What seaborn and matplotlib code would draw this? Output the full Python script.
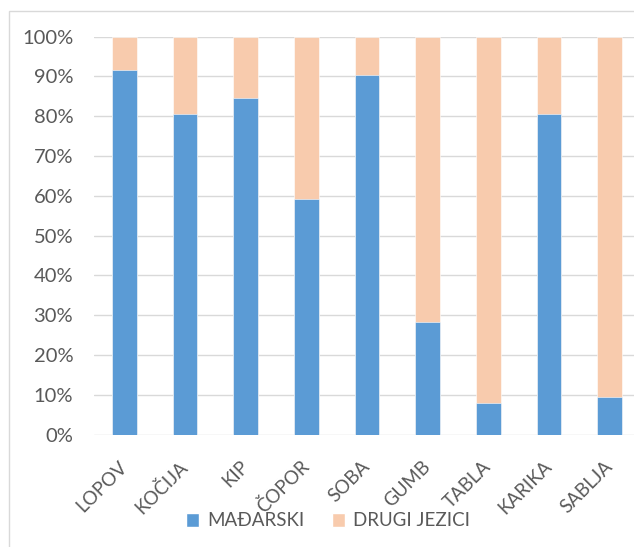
import matplotlib
matplotlib.use("Agg")
import matplotlib.pyplot as plt
import seaborn as sns
import pandas as pd
from matplotlib.patches import Rectangle, Patch
from matplotlib.ticker import PercentFormatter

categories = ["LOPOV", "KOČIJA", "KIP", "ČOPOR", "SOBA", "GUMB", "TABLA", "KARIKA", "SABLJA"]
madjarski = [91.6, 80.6, 84.5, 59.2, 90.3, 28.2, 7.9, 80.6, 9.4]
drugi_jezici = [8.4, 19.4, 15.5, 40.8, 9.7, 71.8, 92.1, 19.4, 90.6]
series_names = ["MAĐARSKI", "DRUGI JEZICI"]
y_ticks = [0, 10, 20, 30, 40, 50, 60, 70, 80, 90, 100]

BLUE = "#5B9BD5"
PEACH = "#F8CBAD"
GRID = "#D9D9D9"
TEXT = "#595959"

df = pd.DataFrame({"cat": categories, "m": madjarski, "d": drugi_jezici})
df["total"] = df["m"] + df["d"]

sns.set_theme(style="white")
plt.rcParams["font.family"] = ["Lato", "DejaVu Sans"]

fig = plt.figure(figsize=(6.34, 5.47), dpi=100)
W, H = 634, 547
ax = fig.add_axes([94 / W, (H - 434.5) / H, (640 - 94) / W, (434.5 - 36.7) / H])

# chart border (Excel chart area)
fig.patches.append(Rectangle((9 / W, -0.1), 1.2, (H - 11) / H + 0.1, transform=fig.transFigure,
                             fill=False, edgecolor=GRID, linewidth=1.0, zorder=0))

sns.barplot(data=df, x="cat", y="total", color=PEACH, width=0.41, ax=ax, saturation=1,
            edgecolor="white", linewidth=0.4, zorder=2)
sns.barplot(data=df, x="cat", y="m", color=BLUE, width=0.41, ax=ax, saturation=1,
            edgecolor="white", linewidth=0.4, zorder=3)

ax.set_ylim(0, 100)
ax.set_xlim(-0.5, len(categories) - 0.5)
ax.set_yticks(y_ticks)
ax.yaxis.set_major_formatter(PercentFormatter(decimals=0))
ax.grid(axis="y", color=GRID, linewidth=1.0, zorder=0)
ax.set_axisbelow(True)
for s in ax.spines.values():
    s.set_visible(False)
ax.set_xlabel("")
ax.set_ylabel("")
ax.tick_params(axis="y", length=0, pad=15, labelsize=14.5, labelcolor=TEXT)
ax.tick_params(axis="x", length=0, pad=21, labelsize=13.5, labelcolor=TEXT)
for lbl in ax.get_xticklabels():
    lbl.set_rotation(45)
    lbl.set_ha("right")
    lbl.set_va("center")
    lbl.set_rotation_mode("anchor")
    lbl.set_x(0)

handles = [Patch(facecolor=BLUE), Patch(facecolor=PEACH)]
fig.legend(handles, series_names, loc="center", ncol=2, frameon=False,
           bbox_to_anchor=(328 / W, 1 - 521 / H), fontsize=13.5, labelcolor=TEXT,
           handlelength=0.7, handleheight=0.7, handletextpad=0.4, columnspacing=1.5)

fig.savefig("out.png", dpi=100)
